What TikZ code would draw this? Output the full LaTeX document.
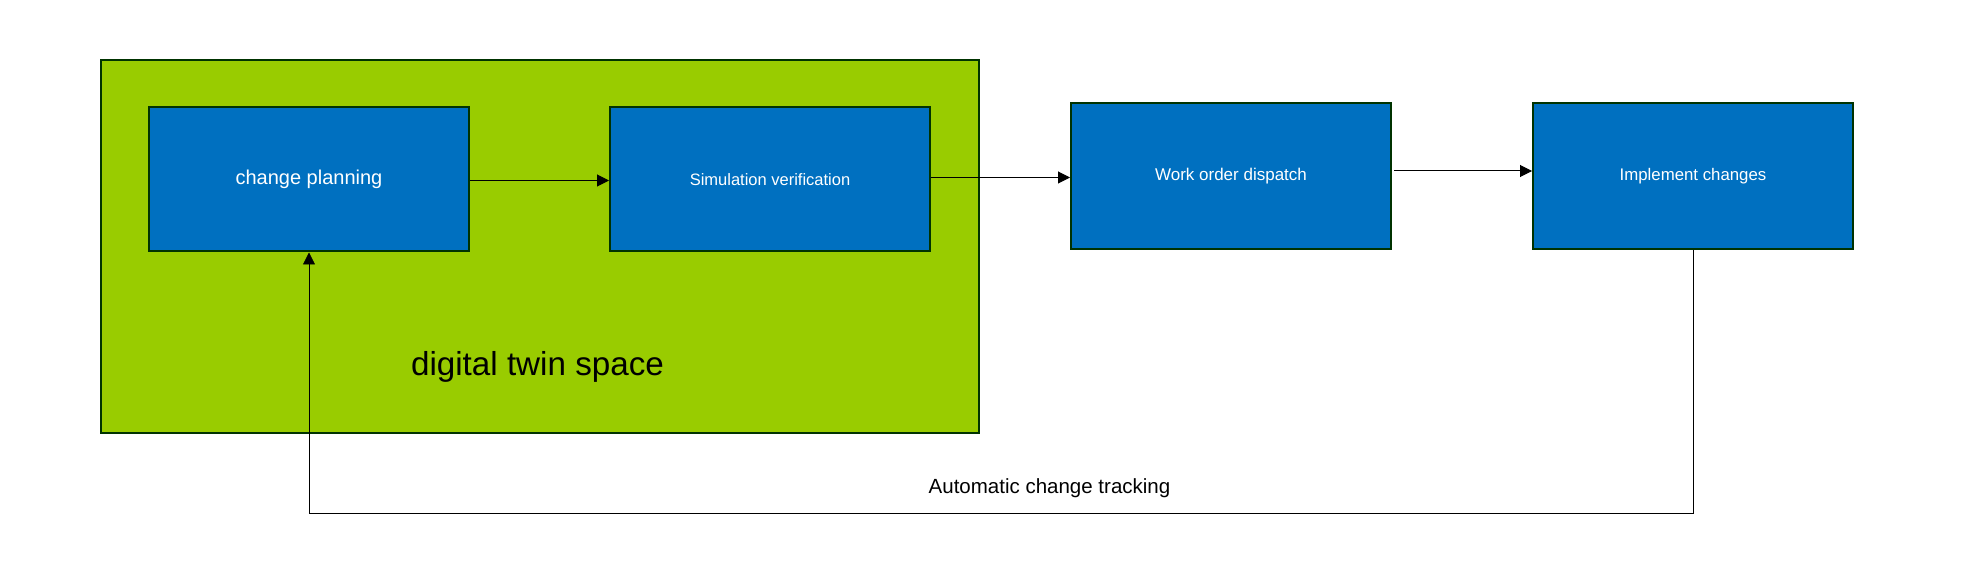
\documentclass[tikz,border=0pt]{standalone}
\usepackage{fontspec}
\setmainfont{Liberation Sans}
\usepackage{tikz}
\usetikzlibrary{calc}
\usetikzlibrary{arrows.meta}

\definecolor{twingreen}{HTML}{99CC00}
\definecolor{stepblue}{HTML}{0070C0}
\definecolor{edgegreen}{HTML}{003300}

\begin{document}
\begin{tikzpicture}[x=0.5pt, y=-0.5pt,
    stepbox/.style={rectangle, draw=edgegreen, fill=stepblue, line width=1pt, text=white,
        minimum width=160pt, minimum height=72pt, inner sep=0pt, font=\fontsize{8.4}{10}\selectfont},
    flow/.style={draw=black, line width=0.5pt, -{Triangle[length=6pt, width=6pt]}}]
            \useasboundingbox (0, 0) rectangle (1972, 572);
            % digital twin area
            \node[rectangle, draw=edgegreen, fill=twingreen, line width=1pt, minimum width=439pt,
                minimum height=186.5pt, inner sep=0pt] (twin) at (539.75, 246.75) {};
            \node[anchor=base, font=\fontsize{16.6}{19}\selectfont] (twinlabel) at (537.5, 376) {digital twin space};
            % process steps
            \node[stepbox, font=\fontsize{10}{12}\selectfont] (plan) at (309, 179.5) {change planning};
            \node[stepbox, font=\fontsize{8.25}{10}\selectfont] (sim) at (770, 179.5) {Simulation verification};
            \node[stepbox, minimum height=73pt, font=\fontsize{8.5}{10}\selectfont] (dispatch) at (1231, 176.5) {Work order dispatch};
            \node[stepbox, minimum height=73pt] (implement) at (1693, 176.5) {Implement changes};
            \draw[flow] ([yshift=-0.5pt]plan.east) -- ([yshift=-0.5pt]sim.west);
            \draw[flow] ([yshift=1pt]sim.east) -- ([yshift=-0.5pt]dispatch.west);
            \draw[flow, shorten <=1pt] ([yshift=2.75pt]dispatch.east) -- ([yshift=2.75pt]implement.west);
            % feedback loop
            \coordinate (loop) at (309, 513.5);
            \draw[flow, line width=0.4pt] (implement.south) |- (loop) -- (plan.south);
            \node[anchor=base, font=\fontsize{10.25}{12}\selectfont] (track) at (1049.5, 493.3) {Automatic change tracking};
        \end{tikzpicture}
\end{document}
